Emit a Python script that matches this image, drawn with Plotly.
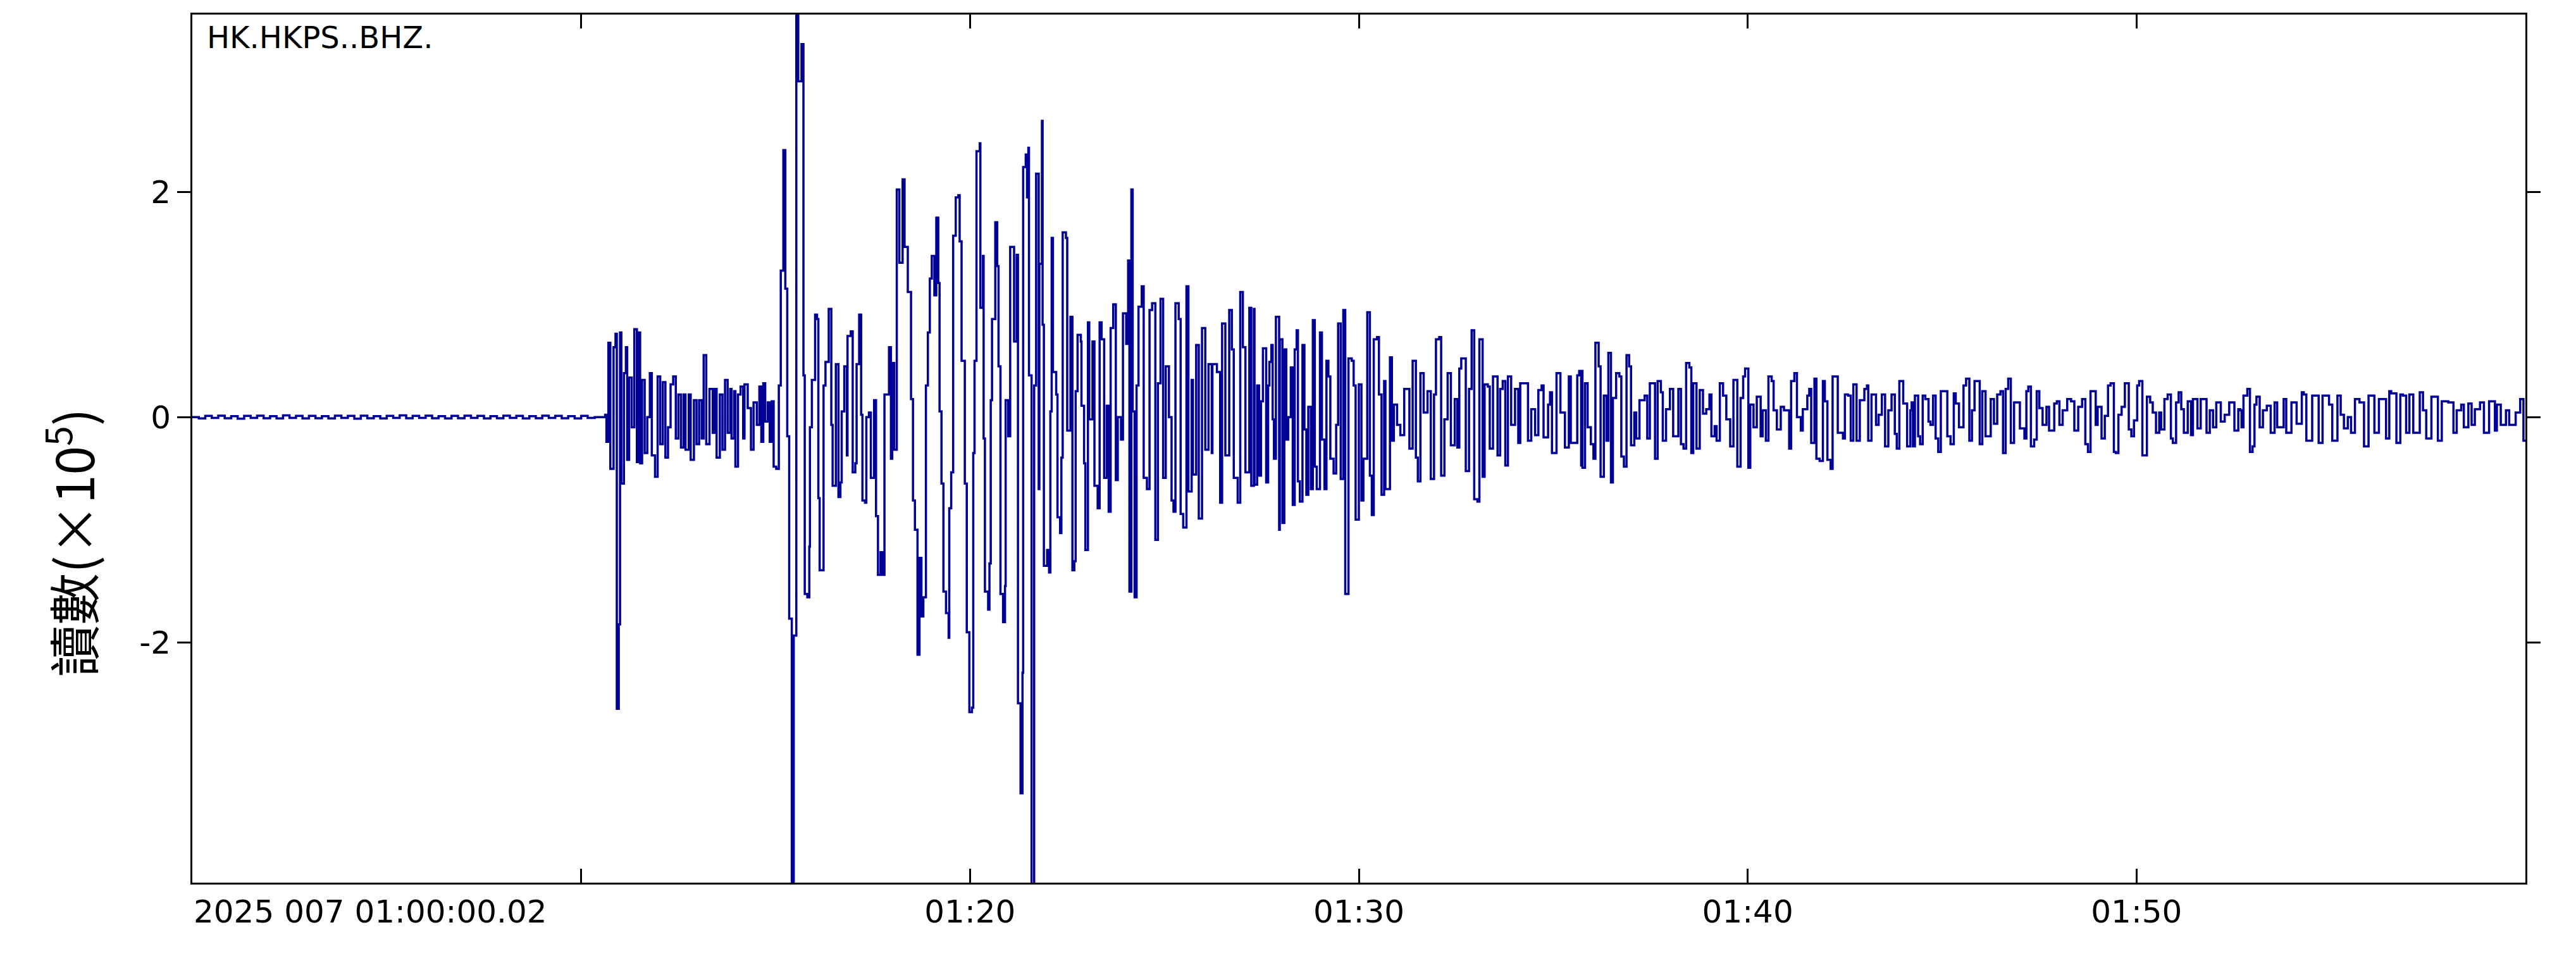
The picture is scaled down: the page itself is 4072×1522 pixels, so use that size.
import plotly.graph_objects as go

# ---- data: seconds after 01:00:00 (2025 day 007), amplitude in counts x 1e5 ----
t_pre = [0, 10, 20, 30, 40, 50, 60, 70, 80, 90, 100, 110, 120, 130, 140, 150, 160, 170, 180, 190,
         200, 210, 220, 230, 240, 250, 260, 270, 280, 290, 300, 310, 320, 330, 340, 350, 360, 370,
         380, 390, 400, 410, 420, 430, 440, 450, 460, 470, 480, 490, 500, 510, 520, 530, 540, 550,
         560, 570, 580, 590, 600, 610, 621]
v_pre = [0.0, -0.012, 0.01, -0.008, 0.012, -0.01, 0.008, -0.015, 0.01, -0.008, 0.012, -0.01,
         0.008, -0.012, 0.015, -0.008, 0.01, -0.012, 0.01, -0.01, 0.008, -0.012, 0.012, -0.008,
         0.01, -0.015, 0.012, -0.01, 0.008, -0.012, 0.01, -0.008, 0.015, -0.01, 0.01, -0.008,
         0.012, -0.01, 0.008, -0.012, 0.01, -0.01, 0.012, -0.008, 0.01, -0.012, 0.008, -0.01,
         0.012, -0.008, 0.01, -0.012, 0.008, -0.01, 0.012, -0.008, 0.01, -0.01, 0.008, -0.012,
         0.01, -0.008, 0.0]

t_p = [637, 639, 642, 645, 650, 653, 655, 658, 660, 662, 666, 669, 671, 674, 678, 682, 686, 688,
       691, 694, 698, 702, 706, 709, 714, 718, 722, 726, 730, 734, 738, 742, 746, 750, 754, 758,
       761, 766, 769, 774, 778, 782, 786, 789, 793, 798, 803, 806, 809, 814, 818, 822, 826, 830,
       832, 836, 838, 842, 846, 850, 852, 857, 862, 866, 871, 875, 878, 881, 884, 888, 891, 894,
       897, 901, 905, 908, 912, 915, 918, 921, 925, 928, 932, 935, 940, 943, 945, 949, 952, 953,
       956, 961, 964, 966, 968, 972, 974, 977, 982, 986, 988, 993, 997, 1000, 1002, 1006, 1010,
       1011, 1016, 1019, 1023, 1025, 1029, 1032, 1034, 1038, 1040, 1044, 1047, 1052, 1055, 1058,
       1062, 1065, 1068, 1075, 1078, 1080, 1083, 1087, 1091, 1096, 1099, 1104, 1109, 1112, 1115,
       1119, 1122, 1125]
v_p = [0.02, -0.22, 0.66, -0.46, 0.62, 0.74, -2.59, -1.84, 0.75, -0.59, 0.39, 0.62, -0.38, 0.35,
       -0.09, 0.78, -0.40, 0.75, -0.41, 0.33, -0.32, 0.0, 0.39, -0.34, -0.53, 0.36, -0.24, 0.31,
       -0.36, -0.09, 0.29, 0.36, -0.19, 0.20, -0.27, 0.20, -0.29, 0.20, -0.38, 0.15, -0.24, 0.15,
       -0.19, 0.55, -0.24, 0.25, -0.14, 0.25, -0.36, 0.20, -0.29, 0.33, -0.14, 0.25, -0.19, 0.23,
       -0.44, 0.20, 0.27, -0.19, 0.29, 0.08, -0.29, 0.13, -0.07, 0.27, -0.22, 0.30, -0.04, 0.13,
       -0.22, 0.14, -0.44, -0.46, 0.28, 1.30, 2.37, 1.14, -0.17, -1.79, -4.6, -1.94, 3.9, 2.98,
       3.31, 0.37, -1.57, -1.60, -1.15, -0.09, 0.33, 0.91, 0.87, -0.72, -1.36, -1.36, 0.28, 0.49,
       0.96, -0.07, -0.61, 0.47, -0.71, -0.58, 0.05, 0.45, -0.34, 0.72, 0.76, -0.49, -0.41, 0.47,
       0.91, 0.02, -0.74, -0.76, 0.0, 0.04, -0.54, 0.15, -0.88, -1.40, -1.20, -1.40, 0.20, 0.62,
       -0.37, 0.48, -0.29, 2.02, 1.37, 2.11, 1.51, 1.11, 0.16, -0.74, -1.0, -2.11, -1.25, -1.77]

t_s = [1128, 1132, 1135, 1138, 1141, 1145, 1148, 1151, 1153, 1156, 1159, 1163, 1167, 1168, 1171,
       1174, 1178, 1182, 1184, 1187, 1192, 1195, 1199, 1203, 1205, 1207, 1210, 1215, 1216, 1220,
       1221, 1223, 1228, 1230, 1232, 1234, 1239, 1242, 1244, 1247, 1251, 1254, 1255, 1259, 1262,
       1267, 1268, 1272, 1274, 1278, 1281, 1282, 1286, 1288, 1290, 1291, 1295, 1299, 1302, 1306,
       1307, 1311, 1312, 1314, 1319, 1322, 1324, 1326, 1328, 1333, 1335, 1339, 1341, 1343, 1348,
       1350, 1355, 1358, 1361, 1363, 1366, 1371, 1372, 1376, 1378, 1382, 1384, 1389, 1392, 1397,
       1400, 1403, 1407, 1411, 1414, 1417, 1421, 1425, 1428, 1433, 1436, 1441, 1444, 1446, 1449,
       1451, 1454, 1457, 1460, 1465, 1468, 1473, 1477, 1481, 1486, 1490, 1494, 1498, 1502, 1507,
       1511, 1514, 1517, 1522, 1525, 1529, 1534, 1537, 1542, 1544, 1549, 1553, 1558, 1563, 1568,
       1573, 1574, 1581, 1586, 1589, 1594, 1600, 1604, 1607, 1613, 1617, 1621, 1625, 1631, 1634]
v_s = [-1.6, 0.28, 0.75, 1.23, 1.43, 1.08, 1.77, 1.19, 0.05, -0.59, -1.55, -1.74, -1.96, -0.81,
       -0.49, 1.61, 1.95, 1.97, 1.56, 0.50, -0.59, -1.91, -2.62, -2.58, -0.32, 0.50, 2.36, 2.43,
       0.97, 1.43, -0.19, -1.55, -1.71, -1.30, 0.15, 0.87, 1.73, 1.34, 0.45, -1.57, -1.82, -1.50,
       0.15, -0.17, 1.51, 1.51, 0.67, 1.44, -2.54, -3.34, -2.27, 2.22, 2.33, 1.95, 2.39, 0.37,
       -4.6, 0.28, 2.16, -0.64, 1.36, 2.63, 0.82, -1.32, -1.18, -1.38, 0.05, 1.59, 0.40, 0.20,
       -0.89, -1.03, -0.36, 1.64, 1.59, -0.12, 0.89, -1.36, -1.28, 0.23, 0.73, 0.67, 0.10, -0.41,
       -1.18, 0.84, -0.02, 0.67, -0.61, -0.81, 0.84, 0.69, -0.54, 0.10, -0.84, 0.79, 1.00, -0.56,
       0.0, -0.20, 0.92, 0.65, 1.39, -1.55, 2.02, 0.05, -1.60, 0.28, 0.98, 1.16, -0.54, -0.64,
       0.95, 1.01, -1.09, 0.30, 1.05, -0.54, 0.45, 0.0, -0.74, -0.84, 1.01, 0.87, -0.86, -0.98,
       1.16, -0.66, 0.33, -0.51, 0.64, -0.90, 0.79, -0.29, 0.47, -0.32, 0.47, 0.40, -0.76, 0.83,
       -0.34, 0.95, 0.60, -0.54, -0.76, 1.11, 0.62, -0.49, 0.97, -0.61]

t_c1 = [1638, 1639, 1643, 1646, 1649, 1652, 1657, 1660, 1662, 1665, 1667, 1669, 1672, 1677, 1678,
        1682, 1685, 1688, 1691, 1695, 1698, 1701, 1704, 1706, 1709, 1713, 1716, 1719, 1722, 1726,
        1729, 1732, 1735, 1740, 1743, 1747, 1750, 1753, 1756, 1761, 1765, 1768, 1772, 1776, 1779,
        1784, 1789, 1792, 1795, 1800, 1804, 1807, 1813, 1817, 1820, 1823, 1828, 1831, 1835, 1839,
        1841, 1848, 1851, 1854, 1859, 1864, 1870, 1878, 1883, 1888, 1891, 1895, 1900, 1906, 1911,
        1916, 1919, 1924, 1927, 1932, 1937, 1942, 1948, 1952, 1955, 1958, 1965, 1970, 1974, 1978,
        1983, 1986, 1991, 1994, 1999, 2002, 2007, 2014, 2018, 2022, 2026, 2030, 2035, 2041, 2046,
        2049, 2057, 2061, 2066, 2072, 2077, 2082, 2085, 2092, 2095, 2098, 2105, 2111, 2118, 2124,
        2127, 2132, 2137, 2140, 2143]
v_c1 = [0.96, -0.60, 0.28, -0.52, 0.14, 0.61, -0.58, 0.28, 0.49, 0.64, -0.02, -0.37, 0.89, -1.0,
        0.69, -0.94, 0.60, -0.20, 0.0, 0.44, -0.78, 0.60, 0.77, -0.57, -0.75, 0.64, -0.11, -0.69,
        0.09, -0.64, 0.86, -0.44, -0.64, 0.75, -0.20, -0.64, 0.50, 0.36, -0.37, -0.50, -0.07, 0.83,
        -0.55, 0.95, -1.57, 0.52, 0.50, 0.28, -0.91, 0.29, -0.74, -0.37, 0.93, -0.52, -0.87, 0.69,
        0.71, 0.20, -0.69, 0.32, -0.64, 0.53, -0.21, 0.11, -0.07, -0.16, 0.25, -0.28, 0.50, -0.36,
        -0.57, 0.39, 0.04, 0.23, -0.55, 0.20, 0.69, 0.71, -0.52, -0.02, 0.39, -0.25, 0.16, -0.27,
        0.43, 0.52, -0.48, 0.25, 0.77, -0.73, -0.75, 0.69, -0.53, 0.29, 0.27, -0.28, 0.36, -0.34,
        0.25, 0.32, -0.43, 0.36, -0.07, 0.25, -0.23, 0.30, 0.30, -0.21, 0.07, -0.16, 0.24, 0.28,
        -0.18, 0.11, 0.22, -0.32, 0.39, 0.04, -0.27, 0.36, -0.23, -0.23, 0.37, 0.41, -0.43]

t_c2 = [2144, 2145, 2149, 2153, 2158, 2162, 2165, 2170, 2173, 2178, 2182, 2185, 2189, 2192, 2197,
        2202, 2205, 2209, 2213, 2217, 2220, 2225, 2228, 2233, 2241, 2245, 2249, 2254, 2257, 2261,
        2266, 2269, 2274, 2280, 2285, 2293, 2297, 2301, 2305, 2310, 2313, 2316, 2321, 2326, 2331,
        2336, 2341, 2344, 2349, 2352, 2357, 2362, 2367, 2373, 2378, 2384, 2389, 2393, 2396, 2401,
        2404, 2409, 2414, 2420, 2423, 2428, 2432, 2437, 2440, 2445, 2451, 2456, 2464, 2467, 2472,
        2476, 2482, 2485, 2492, 2495, 2498, 2503, 2506, 2511, 2516, 2519, 2523, 2528, 2531, 2536,
        2539, 2547, 2550, 2555, 2559, 2563, 2568, 2573, 2580, 2584, 2586, 2591, 2598, 2602, 2607,
        2612, 2617, 2622, 2627, 2630, 2634, 2640, 2646, 2651]
v_c2 = [0.41, -0.45, 0.30, -0.09, -0.24, -0.37, 0.66, 0.45, -0.53, 0.19, -0.21, 0.57, -0.58, 0.17,
        0.39, 0.36, -0.35, -0.44, 0.55, 0.45, -0.25, 0.04, -0.19, 0.15, 0.19, -0.19, 0.30, 0.30,
        -0.37, 0.32, 0.22, -0.21, 0.07, 0.25, -0.17, 0.25, -0.24, -0.28, 0.48, 0.44, -0.32, 0.30,
        -0.28, 0.24, 0.03, 0.07, 0.20, -0.17, -0.08, -0.21, 0.30, 0.19, -0.02, -0.26, 0.33, -0.44,
        0.17, 0.36, 0.43, -0.45, 0.11, -0.09, 0.18, -0.17, 0.06, -0.21, 0.36, 0.32, 0.06, -0.11,
        0.09, 0.06, -0.28, 0.32, 0.39, 0.0, -0.12, 0.07, 0.19, 0.25, -0.23, 0.34, -0.37, -0.39,
        0.32, 0.14, -0.38, -0.46, 0.36, 0.36, -0.14, -0.19, 0.20, 0.19, -0.21, 0.29, -0.21, 0.15,
        0.25, 0.28, -0.21, 0.20, -0.07, 0.02, 0.20, -0.26, 0.06, 0.20, -0.15, -0.28, 0.32, 0.12,
        -0.26, 0.06]

t_c3 = [2653, 2655, 2658, 2663, 2666, 2670, 2674, 2679, 2682, 2686, 2690, 2694, 2698, 2703, 2708,
        2713, 2718, 2721, 2726, 2733, 2737, 2742, 2746, 2750, 2755, 2758, 2762, 2767, 2775, 2780,
        2785, 2790, 2794, 2798, 2802, 2806, 2811, 2817, 2820, 2827, 2830, 2833, 2837, 2842, 2846,
        2850, 2855, 2861, 2865, 2873, 2877, 2881, 2886, 2893, 2899, 2904, 2910, 2916, 2921, 2925,
        2929, 2933, 2937, 2940, 2946, 2951, 2956, 2960, 2965, 2968, 2972, 2977, 2982, 2985, 2988,
        2992, 2996, 3001, 3004, 3009, 3012, 3016, 3021, 3025, 3030, 3035, 3038, 3043, 3048, 3053,
        3056, 3061, 3065, 3069, 3073, 3079, 3084, 3087, 3094, 3099, 3104, 3108, 3113, 3118, 3123,
        3130, 3136, 3143, 3147, 3151, 3157]
v_c3 = [0.13, -0.26, 0.19, -0.17, -0.24, 0.19, 0.16, -0.04, -0.07, 0.19, -0.19, -0.31, 0.23, 0.23,
        -0.17, -0.24, 0.21, 0.12, -0.09, 0.28, 0.34, -0.21, 0.06, 0.32, 0.32, -0.24, 0.23, -0.17,
        0.16, -0.06, 0.20, 0.23, -0.32, 0.25, 0.34, -0.23, 0.13, 0.13, -0.10, -0.19, 0.23, 0.27,
        -0.26, -0.20, 0.23, 0.08, -0.07, 0.09, -0.12, 0.12, 0.14, -0.07, 0.06, 0.16, 0.14, -0.12,
        0.09, 0.16, -0.24, -0.31, 0.23, 0.23, -0.07, 0.09, -0.19, 0.01, 0.28, 0.30, -0.31, -0.32,
        0.02, 0.09, 0.30, 0.30, -0.11, -0.17, -0.03, 0.28, 0.32, -0.34, -0.34, 0.18, 0.13, 0.04,
        -0.14, 0.04, -0.11, 0.16, 0.20, -0.19, -0.23, 0.13, 0.22, 0.07, -0.14, 0.14, -0.16, 0.16,
        -0.10, 0.16, 0.16, -0.14, 0.06, -0.09, 0.13, -0.04, 0.02, 0.13, 0.13, -0.12, 0.07]

t_c4 = [3160, 3162, 3165, 3171, 3175, 3179, 3182, 3185, 3190, 3195, 3201, 3207, 3213, 3217, 3227,
        3231, 3239, 3247, 3255, 3258, 3262, 3271, 3274, 3281, 3287, 3292, 3297, 3302, 3310, 3315,
        3320, 3326, 3331, 3337, 3344, 3351, 3356, 3358, 3362, 3367, 3374, 3378, 3385, 3390, 3393,
        3401, 3407, 3411, 3416, 3421, 3427, 3432, 3437, 3442, 3447, 3455, 3465, 3471, 3481, 3489,
        3494, 3501, 3505, 3512, 3517, 3522, 3530, 3536, 3544, 3553, 3556, 3562, 3570, 3575, 3585,
        3592, 3597, 3600]
v_c4 = [0.06, -0.09, 0.19, 0.25, -0.31, -0.26, 0.11, 0.18, -0.09, 0.06, 0.10, -0.14, 0.13, -0.09,
        0.16, -0.14, 0.13, -0.06, 0.22, 0.20, -0.21, 0.19, 0.19, -0.23, 0.19, 0.19, 0.11, -0.21,
        0.19, 0.02, -0.10, 0.0, -0.14, 0.16, 0.13, -0.26, -0.26, 0.19, 0.19, -0.14, 0.16, 0.16,
        -0.19, 0.23, 0.21, -0.23, 0.20, 0.19, -0.14, 0.20, -0.14, -0.14, 0.22, 0.06, -0.19, 0.18,
        -0.21, 0.14, 0.13, -0.14, 0.06, 0.11, -0.09, 0.12, -0.07, 0.07, 0.13, -0.14, 0.14, -0.12,
        0.11, -0.07, 0.06, -0.07, 0.04, 0.16, -0.21, -0.21]

x_tick_vals = [1200, 1800, 2400, 3000]
x_tick_text = ["01:20", "01:30", "01:40", "01:50"]
x_minor_tick_vals = [600]          # 01:10, tick mark drawn without a label
y_tick_vals = [-2, 0, 2]
y_tick_text = ["-2", "0", "2"]
start_label = "2025 007 01:00:00.02"
station = "HK.HKPS..BHZ."
y_title = "讀數(×10<sup>5</sup>)"

t_all = t_pre + t_p + t_s + t_c1 + t_c2 + t_c3 + t_c4
v_all = v_pre + v_p + v_s + v_c1 + v_c2 + v_c3 + v_c4

LINE = "#000096"
TICKFONT = dict(family="DejaVu Sans", size=50, color="black")

fig = go.Figure()
fig.add_trace(go.Scatter(x=t_all, y=v_all, mode="lines",
                         line=dict(color=LINE, width=3.5, shape="hv"),
                         hoverinfo="skip", showlegend=False))

fig.update_layout(
    width=4064, height=1514,
    margin=dict(l=296, r=80, t=13, b=127),
    plot_bgcolor="white", paper_bgcolor="white",
    showlegend=False,
)
fig.update_xaxes(range=[0, 3600], showgrid=False, zeroline=False,
                 showline=True, linecolor="black", linewidth=3, mirror="ticks",
                 ticks="inside", ticklen=22, tickwidth=3, tickcolor="black",
                 tickvals=x_tick_vals, ticktext=x_tick_text, tickfont=TICKFONT,
                 minor=dict(tickvals=x_minor_tick_vals, ticks="inside", ticklen=22,
                            tickwidth=3, tickcolor="black", showgrid=False))
fig.update_yaxes(range=[-4.133, 3.573], showgrid=False, zeroline=False,
                 showline=True, linecolor="black", linewidth=3, mirror="ticks",
                 ticks="outside", ticklen=21, tickwidth=3, tickcolor="black",
                 tickvals=y_tick_vals, ticktext=y_tick_text, tickfont=TICKFONT)

fig.add_annotation(text=start_label, xref="paper", yref="paper", x=0, y=-0.0335,
                   xanchor="left", yanchor="middle", showarrow=False, font=TICKFONT)
fig.add_annotation(text=station, xref="paper", yref="paper", x=0.0057, y=0.9738,
                   xanchor="left", yanchor="middle", showarrow=False,
                   font=dict(family="DejaVu Sans", size=48, color="black"))
fig.add_annotation(text=y_title, xref="paper", yref="paper", x=-0.0526, y=0.3916,
                   xanchor="center", yanchor="middle", textangle=-90, showarrow=False,
                   font=dict(family="Noto Sans CJK TC", size=82, color="black"))

fig.write_html("out.html")
